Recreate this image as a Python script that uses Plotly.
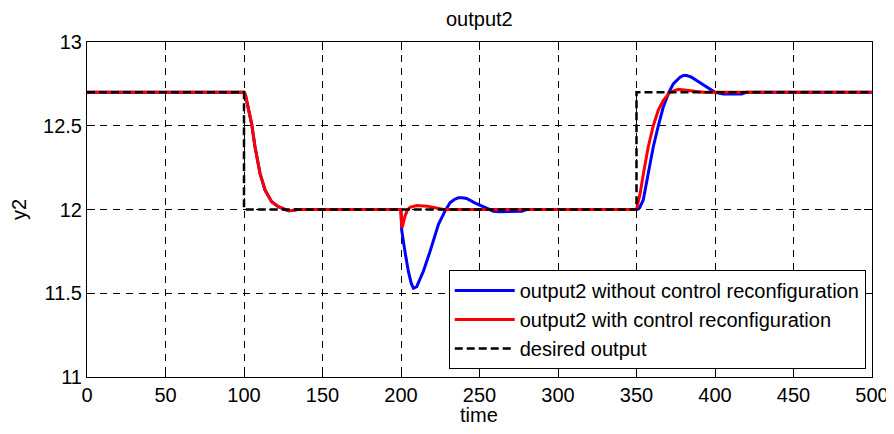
import plotly.graph_objects as go

# series
t_desired = [0, 100, 100, 350, 350, 500]
y_desired = [12.7, 12.7, 12.0, 12.0, 12.7, 12.7]

t_with = [0, 100, 101, 102.8, 104.9, 107, 110.2, 113.4, 117.6, 121.9, 125, 128.2, 131, 134,
          199.8, 200.6, 201.5, 202.5, 204, 205.7, 210, 216.5, 221.8, 227,
          350, 352.2, 354.8, 357.5, 360.7, 363.9, 367, 371.3, 376.6, 384, 392.5, 500]
y_with = [12.7, 12.7, 12.68, 12.61, 12.51, 12.375, 12.216, 12.116, 12.047, 12.017, 12.003, 11.992, 11.994, 12.0,
          12.0, 11.89, 11.92, 11.96, 11.995, 12.013, 12.024, 12.02, 12.01, 12.0,
          12.0, 12.09, 12.236, 12.375, 12.5, 12.594, 12.65, 12.7, 12.717, 12.71, 12.7, 12.7]

t_without = [0, 100, 101, 102.8, 104.9, 107, 110.2, 113.4, 117.6, 121.9, 125, 128.2, 131, 134,
             200, 200.4, 202.5, 204.7, 206.5, 207.9, 210, 212, 214.2, 218.5, 221, 223.8, 228, 231.2,
             234, 236.5, 239, 241.8, 247, 254.6, 258.8, 263, 267.5, 277, 280,
             350, 350.5, 352, 354.3, 357.5, 360.7, 363.9, 367, 370.2, 373.4, 377.7, 380, 382, 385,
             388.3, 394.7, 400, 405.3, 417, 420, 500]
y_without = [12.7, 12.7, 12.68, 12.61, 12.51, 12.375, 12.216, 12.116, 12.047, 12.017, 12.003, 11.992, 11.994, 12.0,
             12.0, 11.88, 11.75, 11.63, 11.56, 11.53, 11.54, 11.58, 11.63, 11.75, 11.83, 11.91, 11.99, 12.04,
             12.06, 12.07, 12.07, 12.066, 12.04, 12.01, 11.99, 11.986, 11.987, 11.99, 12.0,
             12.0, 12.0, 12.01, 12.057, 12.216, 12.375, 12.5, 12.61, 12.69, 12.75, 12.79, 12.8, 12.8, 12.79,
             12.77, 12.73, 12.7, 12.69, 12.69, 12.7, 12.7]

x_ticks = [0, 50, 100, 150, 200, 250, 300, 350, 400, 450, 500]
y_ticks = [11, 11.5, 12, 12.5, 13]

FONT = "Liberation Sans, Arial, sans-serif"
FS = 20

fig = go.Figure()
fig.add_trace(go.Scatter(x=t_without, y=y_without, mode="lines",
                         name="output2 without control reconfiguration",
                         line=dict(color="#0000ff", width=3)))
fig.add_trace(go.Scatter(x=t_with, y=y_with, mode="lines",
                         name="output2 with control reconfiguration",
                         line=dict(color="#ff0000", width=3)))
fig.add_trace(go.Scatter(x=t_desired, y=y_desired, mode="lines",
                         name="desired output",
                         line=dict(color="#000000", width=2.5, dash="8px,4px")))

axis_common = dict(
    showline=True, linecolor="black", linewidth=1, mirror="ticks",
    ticks="inside", ticklen=8, tickcolor="black",
    showgrid=True, gridcolor="black", gridwidth=1, griddash="7px,6px",
    zeroline=False, tickfont=dict(size=FS, color="black"),
)

fig.update_xaxes(range=[0, 500], tickvals=x_ticks, **axis_common)
fig.update_yaxes(range=[11, 13], tickvals=y_ticks, **axis_common,
                 title=dict(text="y2", font=dict(size=FS, color="black"), standoff=12))

# x-axis title as an annotation so it sits closer to the tick labels
fig.add_annotation(text="time", xref="paper", yref="paper", x=0.4994, y=-0.112,
                   xanchor="center", yanchor="middle", showarrow=False,
                   font=dict(size=FS, color="black"))

# the page body adds an 8px offset, so the figure is sized to fit inside the window
fig.update_layout(
    width=886, height=426,
    margin=dict(l=79, r=22, t=34, b=57, autoexpand=False),
    paper_bgcolor="white", plot_bgcolor="white",
    font=dict(family=FONT, size=FS, color="black"),
    title=dict(text="output2", x=0.532, xanchor="center", y=0.974, yanchor="middle",
               font=dict(size=FS, color="black")),
    legend=dict(x=0.992, y=0.024, xanchor="right", yanchor="bottom",
                bgcolor="white", bordercolor="black", borderwidth=1,
                font=dict(size=FS, color="black"), itemwidth=60, tracegroupgap=0),
    showlegend=True,
)

fig.write_html("out.html")
